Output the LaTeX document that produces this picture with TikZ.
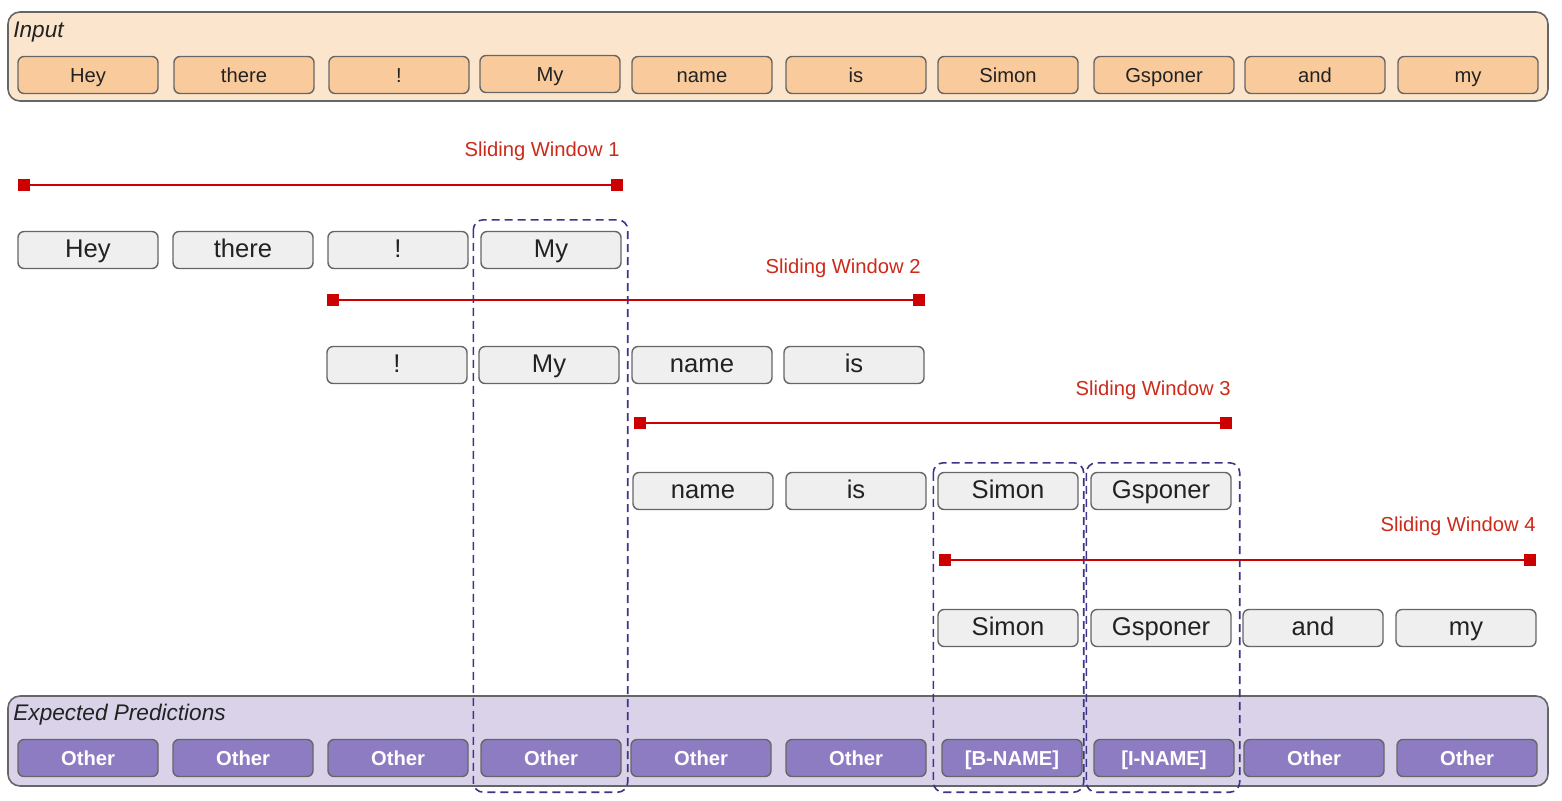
\documentclass[tikz,border=0pt]{standalone}
\usepackage{fontspec}
\setmainfont{Liberation Sans}
\usetikzlibrary{calc}
\definecolor{inbg}{HTML}{FCE5CD}
\definecolor{infill}{HTML}{F9CB9C}
\definecolor{grayfill}{HTML}{EFEFEF}
\definecolor{predbg}{HTML}{D9D2E9}
\definecolor{predfill}{HTML}{8E7CC3}
\definecolor{bordergray}{HTML}{666666}
\definecolor{swred}{HTML}{CC0000}
\definecolor{swtext}{HTML}{CC2A1A}
\definecolor{dashblue}{HTML}{3C3489}
\definecolor{txt}{HTML}{222222}
\tikzset{
  tok/.style={draw=bordergray, line width=0.7pt, rounded corners=3pt, minimum width=70pt, minimum height=18.5pt, inner sep=0pt, text=txt, text height=0.72em, text depth=0pt},
  inp/.style={tok, fill=infill, font=\fontsize{10.1}{12}\selectfont},
  rowtok/.style={tok, fill=grayfill, font=\fontsize{12.8}{14}\selectfont},
  pred/.style={tok, fill=predfill, text=white, font=\fontsize{10.1}{12}\selectfont\bfseries},
  container/.style={draw=bordergray, line width=0.8pt, rounded corners=6pt, inner sep=0pt},
  title/.style={anchor=west, font=\fontsize{11.3}{13}\selectfont\itshape, text=txt, inner sep=0pt, text height=0.72em, text depth=0pt},
  swlab/.style={anchor=east, text=swtext, font=\fontsize{10.1}{12}\selectfont, inner sep=0pt, text height=0.72em, text depth=0pt},
  swline/.style={draw=swred, line width=0.75pt},
  sq/.style={fill=swred, minimum size=6pt, inner sep=0pt},
  dbox/.style={draw=dashblue, line width=0.8pt, dash pattern=on 4pt off 2.5pt, rounded corners=5pt}
}
\begin{document}
\begin{tikzpicture}[x=0.5pt,y=-0.5pt]
\useasboundingbox (0,0) rectangle (1562,800);
\fill[white] (0,0) rectangle (1562,800);
% Input container
\node[container, fill=inbg, minimum width=770pt, minimum height=44.5pt] (inbox) at (778,56.5) {};
\node[title] (intitle) at (13,30) {Input};
% Prediction container
\node[container, fill=predbg, minimum width=770pt, minimum height=45pt] (predbox) at (778,741) {};
\node[title] (predtitle) at (13,713) {Expected Predictions};
% Input tokens
\node[inp] (i0) at (88,75) {Hey};
\node[inp] (i1) at (244,75) {there};
\node[inp] (i2) at (399,75) {!};
\node[inp] (i3) at (550,74) {My};
\node[inp] (i4) at (702,75) {name};
\node[inp] (i5) at (856,75) {is};
\node[inp] (i6) at (1008,75) {Simon};
\node[inp] (i7) at (1164,75) {Gsponer};
\node[inp] (i8) at (1315,75) {and};
\node[inp] (i9) at (1468,75) {my};
% Window 1
\node[swlab] (l1) at (620,149) {Sliding Window 1};
\coordinate (s1a) at (24,185);
\coordinate (s1b) at (617,185);
\draw[swline] (s1a) -- (s1b);
\node[sq] (q1a) at (s1a) {};
\node[sq] (q1b) at (s1b) {};
\node[rowtok] (a0) at (88,250) {Hey};
\node[rowtok] (a1) at (243,250) {there};
\node[rowtok] (a2) at (398,250) {!};
\node[rowtok] (a3) at (551,250) {My};
% Window 2
\node[swlab] (l2) at (921,266) {Sliding Window 2};
\coordinate (s2a) at (333,300);
\coordinate (s2b) at (919,300);
\draw[swline] (s2a) -- (s2b);
\node[sq] (q2a) at (s2a) {};
\node[sq] (q2b) at (s2b) {};
\node[rowtok] (b2) at (397,365) {!};
\node[rowtok] (b3) at (549,365) {My};
\node[rowtok] (b4) at (702,365) {name};
\node[rowtok] (b5) at (854,365) {is};
% Window 3
\node[swlab] (l3) at (1231,388) {Sliding Window 3};
\coordinate (s3a) at (640,423);
\coordinate (s3b) at (1226,423);
\draw[swline] (s3a) -- (s3b);
\node[sq] (q3a) at (s3a) {};
\node[sq] (q3b) at (s3b) {};
\node[rowtok] (c4) at (703,491) {name};
\node[rowtok] (c5) at (856,491) {is};
\node[rowtok] (c6) at (1008,491) {Simon};
\node[rowtok] (c7) at (1161,491) {Gsponer};
% Window 4
\node[swlab] (l4) at (1536,524) {Sliding Window 4};
\coordinate (s4a) at (945,560);
\coordinate (s4b) at (1530,560);
\draw[swline] (s4a) -- (s4b);
\node[sq] (q4a) at (s4a) {};
\node[sq] (q4b) at (s4b) {};
\node[rowtok] (d6) at (1008,628) {Simon};
\node[rowtok] (d7) at (1161,628) {Gsponer};
\node[rowtok] (d8) at (1313,628) {and};
\node[rowtok] (d9) at (1466,628) {my};
% Predictions
\node[pred] (p0) at (88,758) {Other};
\node[pred] (p1) at (243,758) {Other};
\node[pred] (p2) at (398,758) {Other};
\node[pred] (p3) at (551,758) {Other};
\node[pred] (p4) at (701,758) {Other};
\node[pred] (p5) at (856,758) {Other};
\node[pred] (p6) at (1012,758) {[B-NAME]};
\node[pred] (p7) at (1164,758) {[I-NAME]};
\node[pred] (p8) at (1314,758) {Other};
\node[pred] (p9) at (1467,758) {Other};
% Dashed highlight boxes
\draw[dbox] ($(a3.north west)+(-7,-11)$) rectangle ($(p3.south east)+(6,15)$);
\draw[dbox] ($(c6.north west)+(-4,-9)$) rectangle ($(p6.south east)+(1,15)$);
\draw[dbox] ($(c7.north west)+(-4,-9)$) rectangle ($(p7.south east)+(5,15)$);
\end{tikzpicture}
\end{document}
